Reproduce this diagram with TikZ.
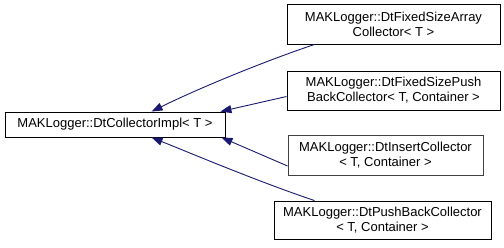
\documentclass[tikz,border=0pt]{standalone}
\usepackage{fontspec}
\setmainfont{Liberation Sans}
\usetikzlibrary{arrows.meta}
\definecolor{edgeblue}{HTML}{191970}
\definecolor{boxgray}{HTML}{404040}
\tikzset{
  cls/.style={draw=black, line width=0.9pt, fill=white, inner sep=0pt, align=center,
    font=\fontsize{13}{15}\selectfont},
  edge/.style={draw=edgeblue, line width=0.9pt, -{Triangle[length=11pt,width=8pt]}}
}
\begin{document}
\begin{tikzpicture}[x=1pt,y=-1pt]
\useasboundingbox (0,0) rectangle (504,247);
\node[cls, minimum width=220pt, minimum height=25pt] (base) at (115,124.5) {MAKLogger::DtCollectorImpl< T >};
\node[cls, minimum width=213pt, minimum height=40pt] (b1) at (393.5,24) {MAKLogger::DtFixedSizeArray\\Collector< T >};
\node[cls, minimum width=213pt, minimum height=39pt] (b2) at (393.5,90.5) {MAKLogger::DtFixedSizePush\\BackCollector< T, Container >};
\node[cls, draw=boxgray, minimum width=195pt, minimum height=40pt] (b3) at (385.5,155) {MAKLogger::DtInsertCollector\\< T, Container >};
\node[cls, minimum width=217pt, minimum height=38pt] (b4) at (382.5,220) {MAKLogger::DtPushBackCollector\\< T, Container >};
\draw[edge] ([xshift=28pt]b1.south west) .. controls (262,62) and (195,90) .. ([xshift=147pt]base.north west);
\draw[edge] ([yshift=-6pt]b2.west) -- ([xshift=-5pt]base.north east);
\draw[edge] ([yshift=-11pt]b3.west) -- ([xshift=-4pt]base.south east);
\draw[edge] ([xshift=41pt]b4.north west) .. controls (262,183) and (195,155) .. ([xshift=147pt]base.south west);
\end{tikzpicture}
\end{document}
